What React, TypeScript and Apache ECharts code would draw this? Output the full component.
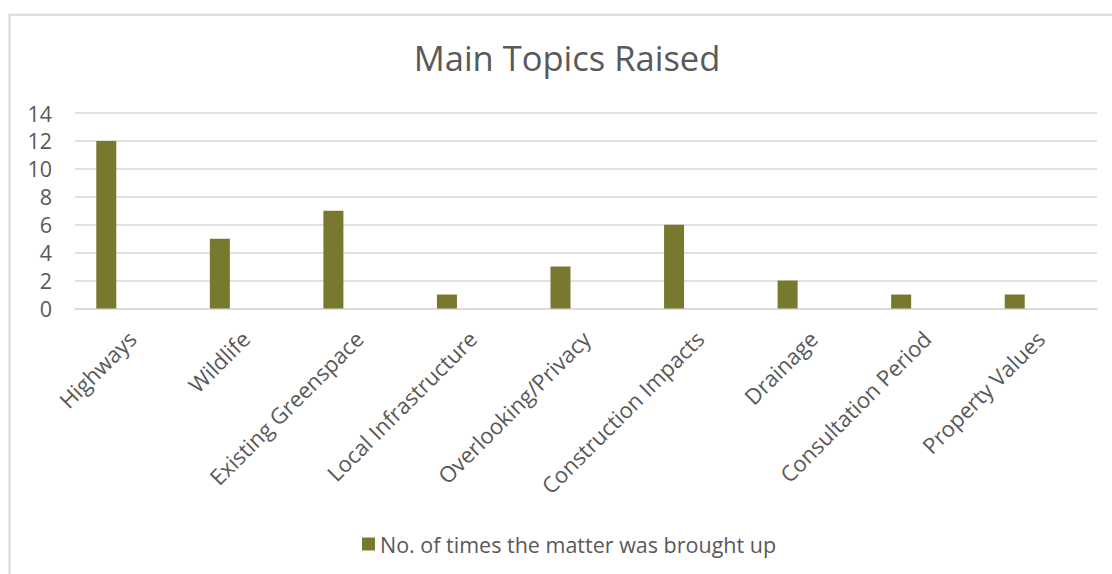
import React, { useEffect, useRef } from "react";
import * as echarts from "echarts";

const titleText = "Main Topics Raised";
const seriesName = "No. of times the matter was brought up";
const categories = [
  "Highways",
  "Wildlife",
  "Existing Greenspace",
  "Local Infrastructure",
  "Overlooking/Privacy",
  "Construction Impacts",
  "Drainage",
  "Consultation Period",
  "Property Values",
];
const counts = [12, 5, 7, 1, 3, 6, 2, 1, 1];
// Empty companion series: keeps the visible bars left of each category centre
const spacer = categories.map(() => "-");

const FONT = "'Open Sans', 'Liberation Sans', Arial, sans-serif";
const TEXT = "#595959";
const GRID = "#d9d9d9";
const BAR = "#78792f";

export default function App() {
  const ref = useRef<HTMLDivElement>(null);

  useEffect(() => {
    if (!ref.current) return;
    const chart = echarts.init(ref.current, undefined, { renderer: "svg" });
    chart.setOption({
      animation: false,
      backgroundColor: "#ffffff",
      textStyle: { fontFamily: FONT },
      title: {
        text: titleText,
        left: 562,
        top: 35,
        textAlign: "center",
        textStyle: { fontFamily: FONT, fontSize: 34.5, fontWeight: "normal", color: TEXT },
      },
      graphic: [
        {
          type: "rect",
          shape: { x: 9.5, y: 14.8, width: 1300, height: 800 },
          style: { fill: "none", stroke: GRID, lineWidth: 2 },
          silent: true,
        },
      ],
      legend: {
        data: [seriesName],
        left: 362,
        top: 533,
        padding: 0,
        icon: "rect",
        itemWidth: 13,
        itemHeight: 13,
        textStyle: { fontFamily: FONT, fontSize: 21.5, color: TEXT },
      },
      grid: { left: 75, right: 15, top: 113, bottom: 265.5, containLabel: false },
      xAxis: {
        type: "category",
        data: categories,
        axisLine: { show: true, lineStyle: { color: GRID, width: 1.5 } },
        axisTick: { show: false },
        axisLabel: {
          interval: 0,
          rotate: 45,
          margin: 26,
          fontFamily: FONT,
          fontSize: 22,
          color: TEXT,
        },
      },
      yAxis: {
        type: "value",
        min: 0,
        max: 14,
        interval: 2,
        axisLine: { show: false },
        axisTick: { show: false },
        axisLabel: { margin: 23, fontFamily: FONT, fontSize: 21.5, color: TEXT },
        splitLine: { lineStyle: { color: GRID, width: 1.5 } },
      },
      series: [
        {
          name: seriesName,
          type: "bar",
          data: counts,
          barWidth: 20,
          barGap: "155%",
          itemStyle: { color: BAR },
        },
        {
          name: "spacer",
          type: "bar",
          data: spacer,
          barWidth: 20,
          silent: true,
        },
      ],
    });
    return () => chart.dispose();
  }, []);

  return (
    <div
      ref={ref}
      style={{ position: "fixed", left: 0, top: 0, width: 1112, height: 574 }}
    />
  );
}
